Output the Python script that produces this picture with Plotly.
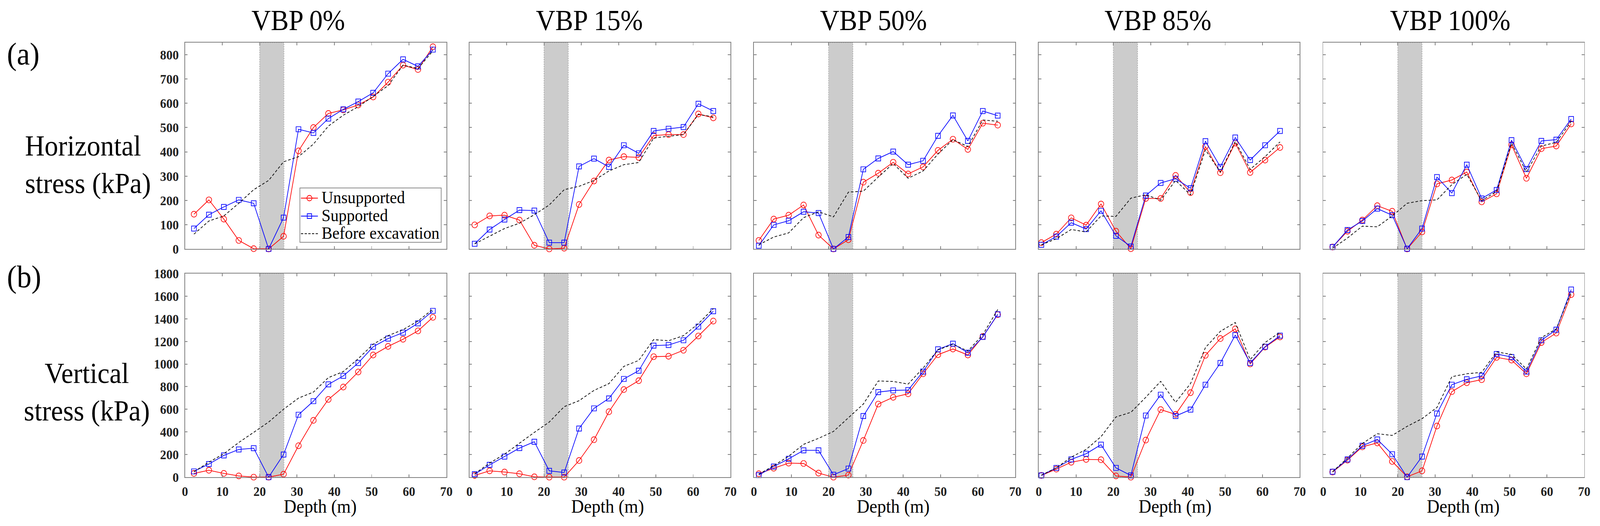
import plotly.graph_objects as go

# ---------------- data ----------------
panel_titles = ["VBP 0%", "VBP 15%", "VBP 50%", "VBP 85%", "VBP 100%"]
series_names = ["Unsupported", "Supported", "Before excavation"]

depth_0 = [2.4, 6.4, 10.4, 14.4, 18.4, 22.4, 26.4, 30.4, 34.4, 38.4, 42.4, 46.4, 50.4, 54.4, 58.4, 62.4, 66.4]
depth_15 = [1.4, 5.4, 9.4, 13.4, 17.4, 21.4, 25.4, 29.4, 33.4, 37.4, 41.4, 45.4, 49.4, 53.4, 57.4, 61.4, 65.4]
depth_50 = [1.3, 5.3, 9.3, 13.3, 17.3, 21.3, 25.3, 29.3, 33.3, 37.3, 41.3, 45.3, 49.3, 53.3, 57.3, 61.3, 65.3]
depth_85 = [0.7, 4.7, 8.7, 12.7, 16.7, 20.7, 24.7, 28.7, 32.7, 36.7, 40.7, 44.7, 48.7, 52.7, 56.7, 60.7, 64.7]
depth_100 = [2.5, 6.5, 10.5, 14.5, 18.5, 22.5, 26.5, 30.5, 34.5, 38.5, 42.5, 46.5, 50.5, 54.5, 58.5, 62.5, 66.5]

# horizontal stress (kPa)
uns_h_0 = [143, 202, 123, 35, 1, 0, 52, 404, 500, 558, 573, 593, 626, 687, 757, 739, 833]
sup_h_0 = [84, 141, 173, 202, 188, 0, 129, 493, 478, 537, 575, 607, 643, 722, 781, 752, 821]
bef_h_0 = [61, 115, 136, 188, 244, 282, 359, 380, 432, 506, 551, 586, 628, 673, 757, 743, 816]

uns_h_15 = [99, 136, 139, 119, 15, 0, 3, 183, 280, 366, 380, 377, 467, 471, 471, 556, 540]
sup_h_15 = [21, 80, 121, 160, 158, 26, 26, 340, 372, 338, 427, 394, 486, 495, 502, 598, 568]
bef_h_15 = [21, 52, 84, 106, 141, 181, 244, 258, 282, 321, 347, 356, 457, 464, 471, 554, 544]

uns_h_50 = [35, 123, 139, 181, 57, 0, 38, 275, 312, 357, 309, 338, 406, 452, 410, 518, 510]
sup_h_50 = [13, 99, 116, 153, 148, 0, 49, 328, 373, 401, 347, 363, 466, 550, 445, 568, 549]
bef_h_50 = [17, 49, 66, 129, 153, 132, 234, 238, 296, 352, 291, 321, 391, 450, 422, 531, 526]

uns_h_85 = [26, 61, 128, 98, 185, 73, 1, 208, 208, 303, 232, 422, 314, 436, 315, 366, 418]
sup_h_85 = [17, 51, 108, 82, 157, 54, 10, 220, 272, 289, 250, 444, 338, 459, 366, 427, 486]
bef_h_85 = [17, 42, 80, 70, 136, 134, 209, 223, 201, 282, 223, 408, 317, 443, 328, 380, 441]

uns_h_100 = [8, 73, 119, 178, 155, 0, 70, 268, 284, 317, 194, 227, 429, 291, 413, 424, 515]
sup_h_100 = [8, 78, 115, 166, 139, 1, 84, 296, 230, 347, 208, 243, 448, 329, 445, 450, 535]
bef_h_100 = [3, 45, 94, 91, 136, 188, 199, 202, 265, 307, 199, 237, 436, 317, 424, 439, 526]

# vertical stress (kPa)
uns_v_0 = [33, 61, 33, 11, 0, 0, 26, 278, 502, 687, 797, 930, 1080, 1156, 1219, 1293, 1413]
sup_v_0 = [51, 116, 192, 245, 256, 0, 200, 552, 672, 820, 895, 1009, 1153, 1225, 1278, 1360, 1470]
bef_v_0 = [48, 132, 207, 306, 396, 487, 600, 699, 752, 880, 933, 1047, 1175, 1251, 1304, 1380, 1485]

uns_v_15 = [15, 56, 45, 30, 3, 0, 0, 147, 331, 578, 774, 853, 1065, 1069, 1122, 1248, 1380]
sup_v_15 = [26, 109, 182, 257, 313, 56, 41, 430, 608, 696, 868, 941, 1163, 1168, 1210, 1331, 1467]
bef_v_15 = [30, 124, 203, 298, 396, 487, 623, 676, 767, 827, 979, 1032, 1216, 1206, 1251, 1357, 1490]

uns_v_50 = [30, 79, 124, 121, 36, 0, 18, 324, 646, 706, 737, 914, 1083, 1133, 1080, 1243, 1437]
sup_v_50 = [18, 94, 162, 237, 237, 21, 76, 540, 752, 767, 770, 933, 1130, 1180, 1100, 1240, 1440]
bef_v_50 = [26, 101, 185, 290, 343, 404, 525, 646, 850, 846, 823, 964, 1125, 1175, 1115, 1259, 1482]

uns_v_85 = [15, 71, 132, 157, 154, 11, 0, 328, 597, 555, 747, 1077, 1225, 1311, 1001, 1150, 1240]
sup_v_85 = [15, 82, 157, 207, 287, 82, 15, 545, 729, 540, 597, 817, 1009, 1256, 1009, 1153, 1251]
bef_v_85 = [18, 82, 177, 245, 358, 532, 573, 706, 847, 661, 827, 1145, 1289, 1367, 1039, 1190, 1281]

uns_v_100 = [45, 151, 268, 303, 139, 3, 56, 452, 756, 835, 862, 1059, 1035, 914, 1190, 1274, 1614]
sup_v_100 = [48, 157, 278, 333, 203, 0, 182, 563, 817, 865, 895, 1089, 1062, 933, 1210, 1304, 1659]
bef_v_100 = [48, 169, 298, 384, 369, 449, 517, 616, 888, 914, 926, 1107, 1085, 956, 1233, 1311, 1637]

excavation_zone = [20, 26.5]   # shaded depth band (m)
x_ticks = [0, 10, 20, 30, 40, 50, 60, 70]
yticks_h = [0, 100, 200, 300, 400, 500, 600, 700, 800]
yticks_v = [0, 200, 400, 600, 800, 1000, 1200, 1400, 1600, 1800]

depths = [depth_0, depth_15, depth_50, depth_85, depth_100]
horiz = [(uns_h_0, sup_h_0, bef_h_0), (uns_h_15, sup_h_15, bef_h_15), (uns_h_50, sup_h_50, bef_h_50),
         (uns_h_85, sup_h_85, bef_h_85), (uns_h_100, sup_h_100, bef_h_100)]
vert = [(uns_v_0, sup_v_0, bef_v_0), (uns_v_15, sup_v_15, bef_v_15), (uns_v_50, sup_v_50, bef_v_50),
        (uns_v_85, sup_v_85, bef_v_85), (uns_v_100, sup_v_100, bef_v_100)]

# ---------------- layout geometry (pixels) ----------------
W, H = 4359, 1346
col_px = [(504, 1216), (1279, 1990), (2054, 2766), (2830, 3541), (3605, 4316)]
row_px = [(109, 637), (700, 1221)]
title_cx = [812, 1605, 2379, 3154, 3951]
xlabel_cx = [872, 1655, 2433, 3201, 3986]

def px(x):
    return x / W

def py(y):
    return 1 - y / H

SERIF = "Liberation Serif"
AXCOL = "#808080"
COLORS = ["red", "blue", "black"]

fig = go.Figure()
layout = dict(
    width=W, height=H, autosize=False,
    margin=dict(l=0, r=0, t=0, b=0, autoexpand=False),
    paper_bgcolor="white", plot_bgcolor="white",
    showlegend=False,
    shapes=[], annotations=[],
)

styles = [
    dict(mode="lines+markers", line=dict(color=COLORS[0], width=1.8),
         marker=dict(symbol="circle-open", size=15, color=COLORS[0], line=dict(width=1.7, color=COLORS[0]))),
    dict(mode="lines+markers", line=dict(color=COLORS[1], width=1.8),
         marker=dict(symbol="square-open", size=13, color=COLORS[1], line=dict(width=1.7, color=COLORS[1]))),
    dict(mode="lines", line=dict(color=COLORS[2], width=1.8, dash="7px,5px")),
]

for r in range(2):
    data = horiz if r == 0 else vert
    for c in range(5):
        n = r * 5 + c + 1
        xa = "x" if n == 1 else f"x{n}"
        ya = "y" if n == 1 else f"y{n}"
        for s in range(3):
            fig.add_trace(go.Scatter(
                x=depths[c], y=data[c][s], name=series_names[s],
                xaxis=xa, yaxis=ya, cliponaxis=False, **styles[s]))
        xkey = "xaxis" if n == 1 else f"xaxis{n}"
        ykey = "yaxis" if n == 1 else f"yaxis{n}"
        layout[xkey] = dict(
            domain=[px(col_px[c][0]), px(col_px[c][1])], anchor=ya,
            range=[0, 70], tickvals=x_ticks, showticklabels=(r == 1),
            ticks="inside", ticklen=7, tickwidth=2, tickcolor=AXCOL,
            showline=True, linecolor=AXCOL, linewidth=2, mirror="ticks",
            showgrid=False, zeroline=False, ticklabelstandoff=5, automargin=False,
            tickfont=dict(family=SERIF, size=34, color="#222222", weight="bold"))
        layout[ykey] = dict(
            domain=[py(row_px[r][1]), py(row_px[r][0])], anchor=xa,
            range=[0, 850] if r == 0 else [0, 1800],
            tickvals=yticks_h if r == 0 else yticks_v,
            showticklabels=(c == 0),
            ticks="inside", ticklen=7, tickwidth=2, tickcolor=AXCOL,
            showline=True, linecolor=AXCOL, linewidth=2, mirror="ticks",
            showgrid=False, zeroline=False, ticklabelstandoff=8, automargin=False,
            tickfont=dict(family=SERIF, size=34, color="#222222", weight="bold"))
        layout["shapes"].append(dict(
            type="rect", xref=xa, yref=f"{ya} domain",
            x0=excavation_zone[0], x1=excavation_zone[1], y0=0, y1=1,
            fillcolor="#cccccc", line=dict(color="#a0a0a0", width=1.5, dash="dot"),
            layer="below"))
        if r == 0:
            layout["annotations"].append(dict(
                text=panel_titles[c], xref="paper", yref="paper",
                x=px(title_cx[c]), y=py(53), xanchor="center", yanchor="middle",
                showarrow=False, font=dict(family=SERIF, size=73, color="black")))
        else:
            layout["annotations"].append(dict(
                text="Depth (m)", xref="paper", yref="paper",
                x=px(xlabel_cx[c]), y=py(1296), xanchor="center", yanchor="middle",
                showarrow=False, font=dict(family=SERIF, size=48, color="black")))

layout["annotations"] += [
    dict(text="(a)", xref="paper", yref="paper", x=px(17), y=py(139), xanchor="left",
         yanchor="middle", showarrow=False, font=dict(family=SERIF, size=80, color="black")),
    dict(text="(b)", xref="paper", yref="paper", x=px(17), y=py(708), xanchor="left",
         yanchor="middle", showarrow=False, font=dict(family=SERIF, size=80, color="black")),
    dict(text="Horizontal<br>stress (kPa)", xref="paper", yref="paper", x=px(66), y=py(421),
         xanchor="left", yanchor="middle", align="left", showarrow=False,
         font=dict(family=SERIF, size=74, color="black")),
    dict(text="Vertical<br>stress (kPa)", xref="paper", yref="paper", x=px(236), y=py(1003),
         xanchor="center", yanchor="middle", align="center", showarrow=False,
         font=dict(family=SERIF, size=74, color="black")),
]

# ---------------- legend (drawn in panel (a) VBP 0%) ----------------
leg_box = (817, 481, 1202, 620)
leg_rows = [507, 553, 598]
leg_line_x = (820, 866)
leg_mark_x = 843
layout["shapes"].append(dict(
    type="rect", xref="paper", yref="paper",
    x0=px(leg_box[0]), x1=px(leg_box[2]), y0=py(leg_box[3]), y1=py(leg_box[1]),
    fillcolor="white", line=dict(color="#8c8c8c", width=2), layer="above"))
for i, yy in enumerate(leg_rows):
    layout["shapes"].append(dict(
        type="line", xref="paper", yref="paper",
        x0=px(leg_line_x[0]), x1=px(leg_line_x[1]), y0=py(yy), y1=py(yy),
        line=dict(color=COLORS[i], width=2, dash="solid" if i < 2 else "6px,4px"),
        layer="above"))
    if i < 2:
        rr = 7 if i == 0 else 6
        layout["shapes"].append(dict(
            type="circle" if i == 0 else "rect", xref="paper", yref="paper",
            x0=px(leg_mark_x - rr), x1=px(leg_mark_x + rr), y0=py(yy + rr), y1=py(yy - rr),
            fillcolor="rgba(0,0,0,0)", line=dict(color=COLORS[i], width=1.8), layer="above"))
    layout["annotations"].append(dict(
        text=series_names[i], xref="paper", yref="paper", x=px(874), y=py(yy - 2),
        xanchor="left", yanchor="middle", showarrow=False,
        font=dict(family=SERIF, size=44, color="black")))

fig.update_layout(**layout)

post = (
    "var gd=document.getElementById('{plot_id}');"
    "document.documentElement.style.margin='0';"
    "document.body.style.margin='0';document.body.style.overflow='hidden';"
    "var sx=window.innerWidth/%d, sy=window.innerHeight/%d;"
    "gd.style.transformOrigin='0 0';"
    "gd.style.transform='scale('+sx+','+sy+')';" % (W, H)
)
fig.write_html("out.html", config={"displayModeBar": False}, post_script=post)
